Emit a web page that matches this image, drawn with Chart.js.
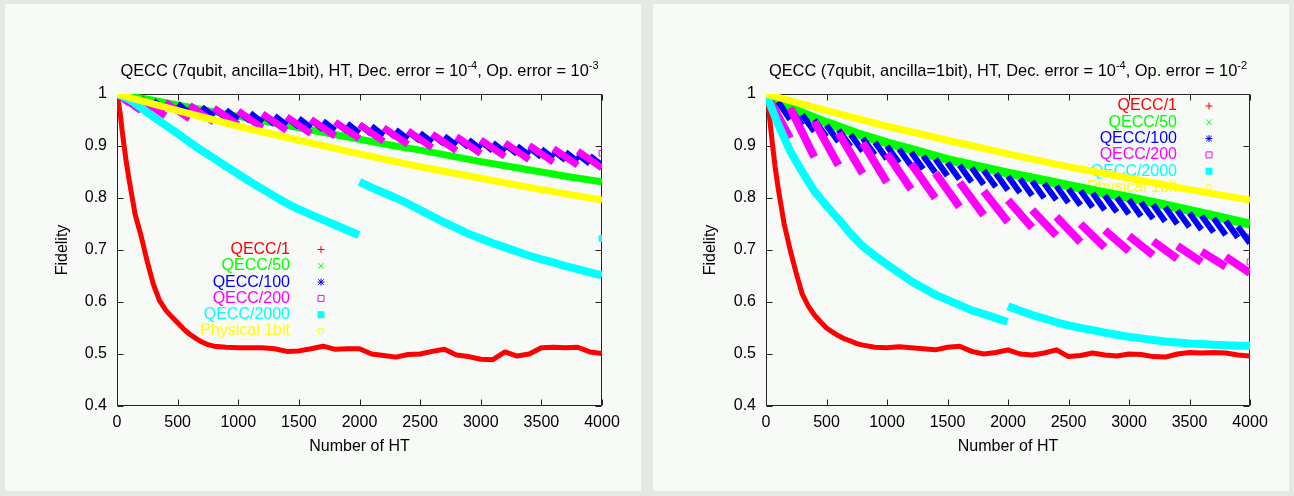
<!DOCTYPE html>
<html><head><meta charset="utf-8">
<script src="https://cdn.jsdelivr.net/npm/chart.js@4.4.1/dist/chart.umd.min.js"></script>
<style>
html,body{margin:0;padding:0;background:#e6e8e6;}
body{width:1294px;height:496px;position:relative;overflow:hidden;}
.panel{position:absolute;top:4px;width:636px;height:487px;background:#f7faf7;}
#p1{left:5px} #p2{left:653px}
canvas{display:block}
</style></head><body>
<div class="panel" id="p1"><canvas id="c1" width="636" height="487"></canvas></div>
<div class="panel" id="p2"><canvas id="c2" width="636" height="487"></canvas></div>
<script>
// ---------------- data ----------------
const xTicks = [0,500,1000,1500,2000,2500,3000,3500,4000];
const yTicks = [0.4,0.5,0.6,0.7,0.8,0.9,1];
const seriesNames = ['QECC/1','QECC/50','QECC/100','QECC/200','QECC/2000','Physical 1bit'];
const xAxisTitle = 'Number of HT';
const yAxisTitle = 'Fidelity';
const titleLeft  = ['QECC (7qubit, ancilla=1bit), HT, Dec. error = 10','-4',', Op. error = 10','-3'];
const titleRight = ['QECC (7qubit, ancilla=1bit), HT, Dec. error = 10','-4',', Op. error = 10','-2'];

// shared HT grids
const redHT = [0,25,50,75,100,150,200,250,300,350,400,450,500,550,600,650,700,750,800,900,1000,1100,1200,1300,1400,1500,1600,1700,1800,1900,2000,2100,2200,2300,2400,2500,2600,2700,2800,2900,3000,3100,3200,3300,3400,3500,3600,3700,3800,3900,4000];
const bandHT = [0,250,500,750,1000,1250,1500,1750,2000,2250,2500,2750,3000,3250,3500,3750,4000];
const physHT = [0,500,1000,1500,2000,2500,3000,3500,4000];
const cyanHT1 = [0,100,200,300,400,500,600,700,800,900,1000,1100,1200,1300,1400,1500,1600,1700,1800,1900,1995];
const cyanHT2 = [2000,2100,2200,2300,2400,2500,2600,2700,2800,2900,3000,3100,3200,3300,3400,3500,3600,3700,3800,3900,4000];

// ----- left panel (Op. error = 10^-3) -----
const leftRed = [1.0,0.965,0.915,0.872,0.835,0.768,0.726,0.677,0.634,0.603,0.585,0.572,0.56,0.548,0.538,0.53,0.523,0.518,0.515,
  0.513,0.512,0.512,0.512,0.51,0.505,0.506,0.51,0.515,0.509,0.51,0.51,0.5,0.497,0.494,0.499,0.5,0.505,0.509,0.498,0.495,0.49,0.489,0.504,0.496,0.5,0.512,0.513,0.512,0.513,0.504,0.501];
const leftGreen = [1.0,0.99,0.979,0.968,0.957,0.946,0.935,0.924,0.913,0.902,0.892,0.881,0.87,0.86,0.85,0.84,0.831];
const leftBlueStart = [1.0,0.995,0.991,0.987,0.984,0.981,0.978,0.975,0.972,0.969,0.966,0.963,0.96,0.958,0.955,0.953,0.95,0.948,0.946,0.943,
  0.941,0.938,0.935,0.931,0.928,0.925,0.922,0.919,0.916,0.912,0.909,0.906,0.903,0.9,0.897,0.894,0.891,0.888,0.884,0.881];
const leftBlueEnd = [0.982,0.977,0.973,0.969,0.966,0.963,0.96,0.957,0.954,0.951,0.948,0.945,0.942,0.94,0.937,0.935,0.932,0.93,0.928,0.925,
  0.923,0.92,0.917,0.913,0.91,0.907,0.904,0.901,0.898,0.894,0.891,0.888,0.885,0.882,0.879,0.876,0.873,0.87,0.866,0.863];
const leftMagentaStart = [1.0,0.99,0.984,0.978,0.973,0.967,0.962,0.956,0.951,0.946,0.941,0.935,0.929,0.923,0.918,0.912,0.906,0.901,0.895,0.89];
const leftMagentaEnd = [0.968,0.958,0.952,0.946,0.941,0.935,0.93,0.924,0.919,0.914,0.909,0.903,0.897,0.891,0.886,0.88,0.874,0.869,0.863,0.858];
const leftCyan1 = [1.0,0.99,0.973,0.956,0.94,0.924,0.907,0.891,0.876,0.861,0.846,0.831,0.817,0.803,0.79,0.778,0.768,0.758,0.748,0.738,0.729];
const leftCyan2 = [0.831,0.82,0.81,0.8,0.789,0.777,0.765,0.753,0.742,0.731,0.722,0.713,0.705,0.697,0.689,0.682,0.676,0.669,0.663,0.657,0.651];
const leftPhysical = [1.0,0.968,0.938,0.911,0.885,0.86,0.838,0.816,0.796];
const leftMagentaAt4000 = 0.886;
const leftCyanAt4000 = 0.722;

// ----- right panel (Op. error = 10^-2) -----
const rightRed = [1.0,0.965,0.91,0.86,0.82,0.75,0.70,0.655,0.615,0.592,0.575,0.562,0.55,0.542,0.535,0.529,0.525,0.52,0.517,
  0.513,0.512,0.514,0.512,0.51,0.508,0.513,0.515,0.505,0.5,0.503,0.508,0.5,0.498,0.502,0.508,0.495,0.497,0.502,0.498,0.496,0.5,0.499,0.495,0.494,0.5,0.503,0.502,0.503,0.502,0.498,0.496];
const rightGreen = [1.0,0.968,0.945,0.924,0.906,0.89,0.874,0.861,0.848,0.836,0.824,0.812,0.801,0.789,0.776,0.763,0.75];
const rightBlueStart = [1.0,0.985,0.972,0.96,0.95,0.94,0.931,0.922,0.915,0.907,0.9,0.894,0.888,0.881,0.875,0.868,0.863,0.858,0.853,0.847,
  0.842,0.837,0.832,0.828,0.823,0.818,0.814,0.809,0.805,0.801,0.797,0.792,0.787,0.782,0.776,0.771,0.766,0.761,0.756,0.745];
const rightBlueEnd = [0.962,0.951,0.94,0.928,0.918,0.908,0.899,0.89,0.883,0.875,0.868,0.862,0.856,0.849,0.843,0.836,0.831,0.826,0.821,0.815,
  0.81,0.805,0.8,0.796,0.791,0.786,0.782,0.777,0.773,0.769,0.765,0.76,0.755,0.75,0.744,0.739,0.734,0.729,0.724,0.713];
const rightMagentaStart = [1.0,0.973,0.947,0.925,0.906,0.885,0.866,0.848,0.83,0.813,0.796,0.777,0.764,0.75,0.738,0.727,0.717,0.708,0.697,0.687];
const rightMagentaEnd = [0.915,0.879,0.863,0.847,0.83,0.817,0.8,0.783,0.767,0.754,0.743,0.728,0.715,0.705,0.698,0.69,0.683,0.677,0.668,0.656];
const rightCyan1 = [1.0,0.942,0.89,0.85,0.813,0.785,0.759,0.731,0.707,0.689,0.672,0.656,0.64,0.627,0.614,0.604,0.594,0.584,0.577,0.569,0.562];
const rightCyan2 = [0.592,0.583,0.575,0.568,0.561,0.555,0.55,0.546,0.541,0.537,0.533,0.53,0.527,0.524,0.522,0.52,0.519,0.518,0.517,0.516,0.516];
const rightPhysical = [1.0,0.968,0.938,0.911,0.885,0.86,0.838,0.816,0.796];
const rightMagentaAt4000 = 0.677;
const rightBlueAt4000 = 0.726;

// ---------------- helpers ----------------
const FONT = "'Liberation Sans', Arial, Helvetica, sans-serif";
Chart.defaults.font.family = FONT;
const COLORS = ['#ff0000','#00ff00','#0000ff','#ff00ff','#00ffff','#ffff00'];
const MARKS = ['plus','cross','star','openSquare','fillSquare','openCircle'];

function pts(hs, vs){ return hs.map((h,i)=>({x:h, y:vs[i]})); }
function gapJoin(a, b){ return a.concat([{x:(a[a.length-1].x + b[0].x)/2, y:null}], b); }
function teeth(starts, ends, period){
  const out = [];
  starts.forEach((s,k)=>{
    out.push({x:k*period, y:s});
    out.push({x:(k+1)*period-1, y:ends[k]});
    out.push({x:(k+1)*period-0.5, y:null});
  });
  return out;
}

function drawMark(ctx, kind, x, y, color){
  ctx.save();
  ctx.strokeStyle = color; ctx.fillStyle = color; ctx.lineWidth = 1;
  const r = 3.5;
  ctx.beginPath();
  if (kind==='plus' || kind==='star'){ ctx.moveTo(x-r,y); ctx.lineTo(x+r,y); ctx.moveTo(x,y-r); ctx.lineTo(x,y+r); }
  if (kind==='cross' || kind==='star'){ const q=r*0.8; ctx.moveTo(x-q,y-q); ctx.lineTo(x+q,y+q); ctx.moveTo(x-q,y+q); ctx.lineTo(x+q,y-q); }
  if (kind==='openSquare'){ ctx.rect(x-3,y-3,6,6); }
  if (kind==='openCircle'){ ctx.arc(x,y,3,0,Math.PI*2); }
  ctx.stroke();
  if (kind==='fillSquare'){ ctx.fillRect(x-3.5,y-3.5,7,7); }
  ctx.restore();
}

const framePlugin = {
  id:'gnuFrame',
  beforeDatasetsDraw(chart){
    const {ctx, chartArea:a, scales:{x, y}} = chart;
    const cfg = chart.options.plugins.gnuDeco;
    ctx.save();
    // key (drawn below the data, as gnuplot does)
    ctx.font = '16px ' + FONT;
    ctx.textAlign = 'right'; ctx.textBaseline = 'middle';
    seriesNames.forEach((name,i)=>{
      const yy = cfg.keyTop + i*cfg.keyStep;
      ctx.fillStyle = COLORS[i];
      ctx.fillText(name, cfg.keyTextRight, yy);
      drawMark(ctx, MARKS[i], cfg.keyMarkX, yy, COLORS[i]);
    });
    // frame with inward ticks
    ctx.strokeStyle = '#222'; ctx.lineWidth = 1;
    ctx.beginPath();
    const L = Math.round(a.left)+0.5, R = Math.round(a.right)-0.5, T = Math.round(a.top)+0.5, B = Math.round(a.bottom)-0.5;
    ctx.rect(L, T, R-L, B-T);
    const tl = 6;
    x.ticks.forEach(t=>{ const px = Math.round(x.getPixelForValue(t.value))+0.5; ctx.moveTo(px,B); ctx.lineTo(px,B-tl); ctx.moveTo(px,T); ctx.lineTo(px,T+tl); });
    y.ticks.forEach(t=>{ const py = Math.round(y.getPixelForValue(t.value))+0.5; ctx.moveTo(L,py); ctx.lineTo(L+tl,py); ctx.moveTo(R,py); ctx.lineTo(R-tl,py); });
    ctx.stroke();
    ctx.restore();
  },
  afterDraw(chart){
    const {ctx, chartArea:a} = chart;
    const cfg = chart.options.plugins.gnuDeco;
    const parts = cfg.title;
    ctx.save();
    ctx.fillStyle = '#000'; ctx.textBaseline = 'alphabetic'; ctx.textAlign = 'left';
    const big = '16.4px ' + FONT, small = '11px ' + FONT;
    const widths = parts.map((p,i)=>{ ctx.font = (i%2===0)?big:small; return ctx.measureText(p).width; });
    const total = widths.reduce((s,w)=>s+w,0);
    let xx = (a.left + a.right)/2 - total/2;
    parts.forEach((p,i)=>{
      ctx.font = (i%2===0)?big:small;
      ctx.fillText(p, xx, (i%2===0) ? cfg.titleBaseline : cfg.titleBaseline - 7.5);
      xx += widths[i];
    });
    ctx.restore();
  }
};

function makeChart(id, d, deco){
  const line = (label, data, ci, width, order) => ({
    label, data, borderColor: COLORS[ci], backgroundColor: COLORS[ci], borderWidth: width,
    pointRadius: 0, spanGaps: false, order, showLine: true
  });
  const datasets = [
    line(seriesNames[0], pts(redHT, d.red), 0, 5, 6),
    line(seriesNames[1], pts(bandHT, d.green), 1, d.greenWidth, 5),
    line(seriesNames[2], teeth(d.blueS, d.blueE, 100), 2, d.blueWidth, 4),
    line(seriesNames[3], teeth(d.magS, d.magE, 200), 3, d.magWidth, 3),
    line(seriesNames[4], gapJoin(pts(cyanHT1, d.cyan1), pts(cyanHT2, d.cyan2)), 4, d.cyanWidth, 2),
    line(seriesNames[5], pts(physHT, d.phys), 5, 7, 1)
  ];
  d.extra.forEach(e=>{
    datasets.push({label: e.name, data:[{x:4000, y:e.v}], showLine:false, order: e.order,
      pointStyle: e.style, pointRadius: e.r, borderWidth: 1, borderColor: COLORS[e.ci],
      backgroundColor: e.fill ? COLORS[e.ci] : 'rgba(0,0,0,0)'});
  });
  return new Chart(document.getElementById(id), {
    type:'line',
    data:{datasets},
    plugins:[framePlugin],
    options:{
      responsive:false, animation:false, devicePixelRatio:1,
      layout:{padding:{left:0, right:deco.padRight, top:90, bottom:0}},
      elements:{line:{tension:0, borderCapStyle:'butt', borderJoinStyle:'round'}, point:{radius:0}},
      plugins:{legend:{display:false}, tooltip:{enabled:false}, title:{display:false}, gnuDeco:deco},
      scales:{
        x:{type:'linear', min:0, max:4000,
          afterBuildTicks: s=>{ s.ticks = xTicks.map(v=>({value:v})); },
          afterFit: s=>{ s.height = 85; },
          grid:{display:false, drawTicks:false}, border:{display:false},
          ticks:{color:'#000', font:{size:16}, padding:7, maxRotation:0, autoSkip:false, callback:v=>String(v)},
          title:{display:true, text:xAxisTitle, color:'#000', font:{size:16}, padding:{top:0, bottom:35}}
        },
        y:{type:'linear', min:0.4, max:1,
          afterBuildTicks: s=>{ s.ticks = yTicks.map(v=>({value:v})); },
          afterFit: s=>{ s.width = deco.yWidth; },
          grid:{display:false, drawTicks:false}, border:{display:false},
          ticks:{color:'#000', font:{size:16}, padding:10, autoSkip:false, callback:v=>String(v)},
          title:{display:true, text:yAxisTitle, color:'#000', font:{size:16}, padding:{top:48, bottom:0}}
        }
      }
    }
  });
}

makeChart('c1', {
  red:leftRed, green:leftGreen, greenWidth:7, blueS:leftBlueStart, blueE:leftBlueEnd, blueWidth:6,
  magS:leftMagentaStart, magE:leftMagentaEnd, magWidth:7, cyan1:leftCyan1, cyan2:leftCyan2, cyanWidth:8, phys:leftPhysical,
  extra:[{name:'QECC/200 @4000', v:leftMagentaAt4000, ci:3, style:'rect', r:4, fill:false, order:3},
         {name:'QECC/2000 @4000', v:leftCyanAt4000, ci:4, style:'rect', r:4, fill:true, order:2}]
}, {padRight:39, yWidth:112, keyTop:245.5, keyStep:16.3, keyTextRight:285, keyMarkX:316, title:titleLeft, titleBaseline:72});

makeChart('c2', {
  red:rightRed, green:rightGreen, greenWidth:9, blueS:rightBlueStart, blueE:rightBlueEnd, blueWidth:6,
  magS:rightMagentaStart, magE:rightMagentaEnd, magWidth:8, cyan1:rightCyan1, cyan2:rightCyan2, cyanWidth:8, phys:rightPhysical,
  extra:[{name:'QECC/200 @4000', v:rightMagentaAt4000, ci:3, style:'rect', r:4, fill:false, order:3},
         {name:'QECC/100 @4000', v:rightBlueAt4000, ci:2, style:'star', r:4, fill:false, order:4}]
}, {padRight:39, yWidth:113, keyTop:102, keyStep:16.3, keyTextRight:524, keyMarkX:556, title:titleRight, titleBaseline:72});
</script>
</body></html>
